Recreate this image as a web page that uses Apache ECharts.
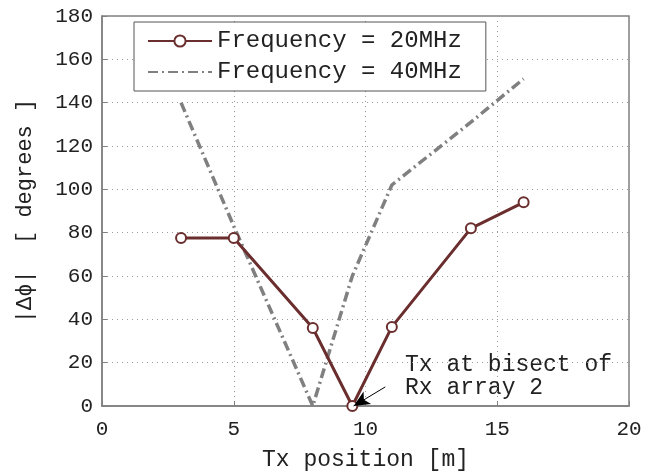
<!DOCTYPE html>
<html><head><meta charset="utf-8">
<script src="https://cdn.jsdelivr.net/npm/echarts@6/dist/echarts.min.js"></script>
<style>html,body{margin:0;padding:0;background:#fff}#c{width:660px;height:471px}</style>
</head><body><div id="c"></div>
<script>
const xTicks = [0, 5, 10, 15, 20];
const yTicks = [0, 20, 40, 60, 80, 100, 120, 140, 160, 180];
const txPos = [3, 5, 8, 9.5, 11, 14, 16];
const f20 = [77.5, 77.5, 36, 0, 36.5, 82, 94];
const txPos40 = [3, 5, 8, 9.5, 11, 14, 16];
const f40 = [140, 83, 0, 60, 102, 131, 151];
const names = ['Frequency = 20MHz', 'Frequency = 40MHz'];
const annoText = 'Tx at bisect of\nRx array 2';
const annoFrom = [10.75, 8.8];
const annoTo = [9.55, 0];
const annoTextAt = [11.5, 24.5];

const font = '"Liberation Mono", "DejaVu Sans Mono", monospace';
const chart = echarts.init(document.getElementById('c'));
chart.setOption({
  animation: false,
  backgroundColor: '#fff',
  grid: { left: 102, right: 31, top: 16, bottom: 65, show: true, borderColor: '#808080', borderWidth: 1.5, outerBoundsMode: 'none', containLabel: false },
  xAxis: {
    type: 'value', min: xTicks[0], max: xTicks[xTicks.length - 1], interval: 5,
    name: 'Tx position [m]', nameLocation: 'middle', nameGap: 42,
    nameTextStyle: { fontFamily: font, fontSize: 23, color: '#222' },
    axisLine: { lineStyle: { color: '#808080', width: 1.5 } },
    axisTick: { inside: true, length: 5, lineStyle: { color: '#808080' } },
    axisLabel: { fontFamily: font, fontSize: 21, color: '#222', margin: 13 },
    splitLine: { show: true, lineStyle: { color: '#9a9a9a', type: [1, 4], width: 1 } }
  },
  yAxis: {
    type: 'value', min: yTicks[0], max: yTicks[yTicks.length - 1], interval: 20,
    name: '|Δϕ|  [ degrees ]', nameLocation: 'middle', nameGap: 66, nameRotate: 90,
    nameTextStyle: { fontFamily: font, fontSize: 22, color: '#222' },
    axisLine: { show: true, lineStyle: { color: '#808080', width: 1.5 } },
    axisTick: { show: true, inside: true, length: 5, lineStyle: { color: '#808080' } },
    axisLabel: { fontFamily: font, fontSize: 21, color: '#222', margin: 9 },
    splitLine: { show: true, lineStyle: { color: '#9a9a9a', type: [1, 4], width: 1 } }
  },
  legend: {
    left: 134, top: 22, orient: 'vertical',
    padding: [7, 24, 7, 13], itemGap: 7,
    borderColor: '#555', borderWidth: 1, backgroundColor: '#fff',
    itemWidth: 64, itemHeight: 14,
    textStyle: { fontFamily: font, fontSize: 24, color: '#222' },
    data: [
      { name: names[0] },
      { name: names[1], itemStyle: { opacity: 0 } }
    ]
  },
  series: [
    {
      name: names[1], type: 'line', z: 2,
      data: txPos40.map((x, i) => [x, f40[i]]),
      showSymbol: false, symbol: 'none',
      lineStyle: { color: '#808080', width: 3.5, type: [10, 4, 2, 4] },
      itemStyle: { color: '#808080' }
    },
    {
      name: names[0], type: 'line', z: 3,
      data: txPos.map((x, i) => [x, f20[i]]),
      symbol: 'emptyCircle', symbolSize: 10,
      lineStyle: { color: '#6b2e2e', width: 3 },
      itemStyle: { color: '#6b2e2e', borderWidth: 2.5 },
      markLine: {
        silent: true, symbol: ['none', 'arrow'], symbolSize: [11, 16],
        lineStyle: { color: '#000', width: 1, type: 'solid' },
        itemStyle: { color: '#000' },
        label: { show: false },
        data: [[{ coord: annoFrom }, { coord: annoTo }]]
      }
    }
  ],
  graphic: []
});
const p = chart.convertToPixel({ gridIndex: 0 }, annoTextAt);
chart.setOption({ graphic: [{
  type: 'text', left: p[0], top: p[1],
  style: { text: annoText, font: '23px ' + font, fill: '#222', lineHeight: 23 }
}]});
</script></body></html>
